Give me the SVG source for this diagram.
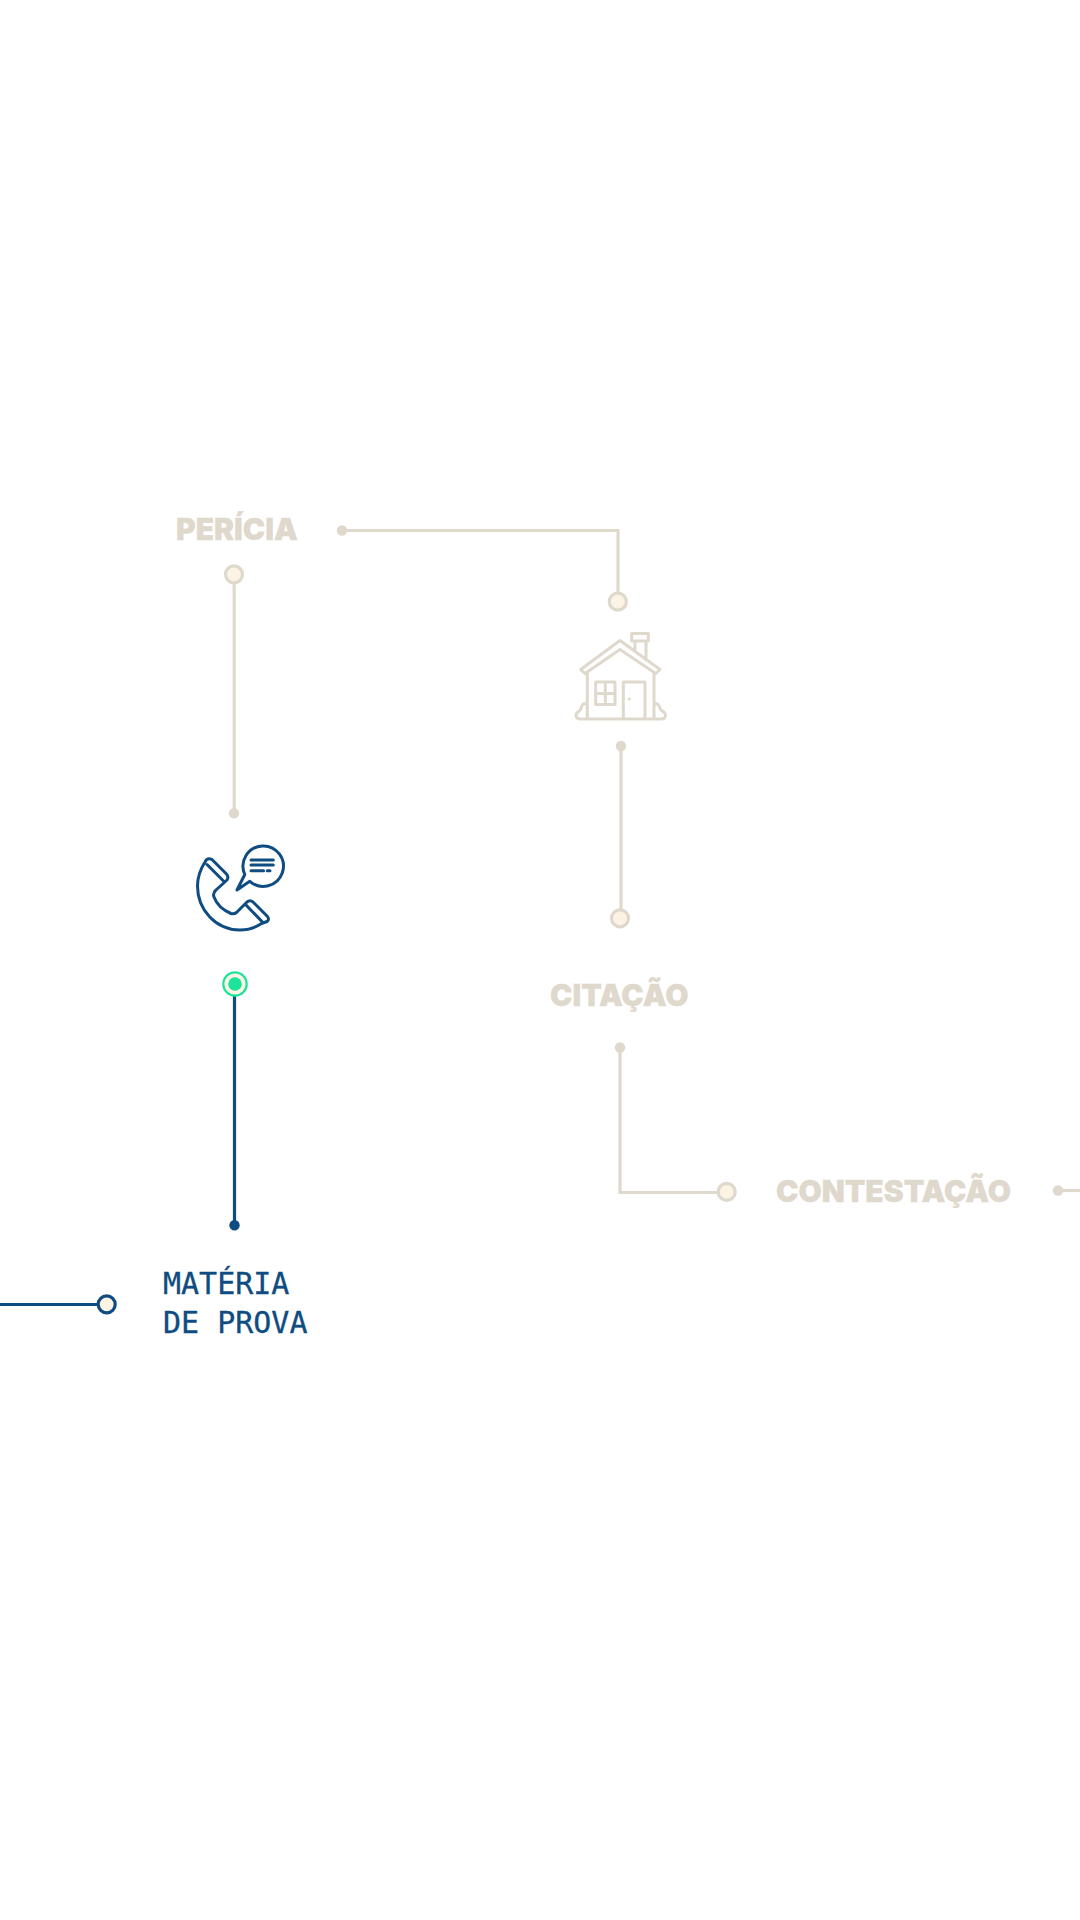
<svg xmlns="http://www.w3.org/2000/svg" width="1080" height="1920" viewBox="0 0 1080 1920">
<style>
.b{fill:none;stroke:#dfd8cc;stroke-width:3.200}
.n{fill:none;stroke:#0f4c81;stroke-width:3.200}
.bd{fill:#dfd8cc}
.nd{fill:#0f4c81}
.bc{fill:#fcf3e4;stroke:#dfd8cc;stroke-width:3.200}
.t{font-family:Inter,"Liberation Sans",sans-serif;font-weight:900;font-size:30px;fill:#dfd8cc;stroke:#dfd8cc;stroke-width:.3}
.m{font-family:"DejaVu Sans Mono",monospace;font-size:30px;fill:#0f4c81;stroke:#0f4c81;stroke-width:.3}
.i{fill:none;stroke:#dfd8cc;stroke-width:3;stroke-linejoin:round;stroke-linecap:round}
.p{fill:none;stroke:#0f4c81;stroke-width:3;stroke-linejoin:round;stroke-linecap:round}
</style>
<rect width="1080" height="1920" fill="#fff"/>
<g id="connectors">
<path class="b" d="M342 530.500H618V592"/>
<path class="b" d="M234.200 582V813"/>
<path class="b" d="M621 746V910"/>
<path class="b" d="M620 1047V1192.500H717"/>
<path class="b" d="M1058 1190.500H1080"/>
<path class="n" d="M234.500 994V1225"/>
<path class="n" d="M0 1304.500H97"/>
</g>
<g id="pericia"><text class="t" x="176" y="540">PERÍCIA</text>
<circle class="bd" cx="342" cy="530.500" r="5.200"/><circle class="bc" cx="234" cy="574.300" r="8.500"/></g>
<g id="citacao-top"><circle class="bc" cx="617.800" cy="601.700" r="8.500"/></g>
<g id="casa">
<path class="i" d="M620 640.500L580.700 669.500L585 673.500L620 649.500L655.700 673.500L660 669.500L620 640.500ZM631.700 633.500H648.300V641H631.700ZM635 641V650M646 641V660M587.300 673V719M654 673V719M595.700 682H615V704.500H595.700ZM605.300 682V704.500M595.700 693.500H615M623.300 719V682H645V719M587.300 703.500Q582 703 581 708Q581 710 578 712Q575.500 714 576 716Q577 719 580 719H661Q665.500 719 665.500 715Q665 712 662 711Q660 709.500 659.500 707Q658.500 703 654 703.500"/>
<circle class="bd" cx="629.300" cy="699" r="1.500"/>
<circle class="bd" cx="621" cy="746" r="5.200"/>
</g>
<g id="citacao"><circle class="bc" cx="620" cy="918.300" r="8.500"/>
<text class="t" x="550" y="1006">CITAÇÃO</text>
<circle class="bd" cx="620" cy="1047.500" r="5.200"/></g>
<g id="contestacao"><circle class="bc" cx="726.700" cy="1191.900" r="8.500"/>
<text class="t" x="776" y="1202">CONTESTAÇÃO</text>
<circle class="bd" cx="1058" cy="1190.500" r="5.200"/></g>
<g id="telefone">
<circle class="bd" cx="234" cy="813.300" r="5.200"/>
<path class="p" d="M205 862Q207 858 210.500 859Q212 859 213 860.500L226.500 874Q229 877 227 880L216 890Q212.500 893 214 897Q218 908 231 913.500Q234 914.500 236.500 912.500L247 902Q250 899.500 253 902L267 916Q270 919 267 921.500L261.500 923.500C254 928.500 247 930 240 930C216 930 197.500 910 197.500 886C197.500 877 200.500 869 205 862ZM207 864.500L223.500 881M246 905L262 921.500"/>
<path class="p" d="M244.800 874.500L237 890L249.800 881.300A20.200 20.200 0 1 0 244.800 874.500Z"/>
<path class="p" d="M251 860H273.300M251 865H273.300M251 870.700H263.600M267.300 870.700H270"/>
</g>
<g id="materia-ponto">
<circle cx="235" cy="984" r="11.700" fill="#fcf3e4" stroke="#1ee39a" stroke-width="2.200"/>
<circle cx="235" cy="984" r="6.800" fill="#1ee39a"/>
<circle class="nd" cx="234.500" cy="1225.300" r="5.200"/></g>
<g id="materia"><circle cx="106.700" cy="1304.300" r="8.500" fill="#fcf3e4" stroke="#0f4c81" stroke-width="3.200"/>
<text class="m" x="163" y="1294">MATÉRIA</text><text class="m" x="163" y="1332.500">DE PROVA</text></g>
</svg>
